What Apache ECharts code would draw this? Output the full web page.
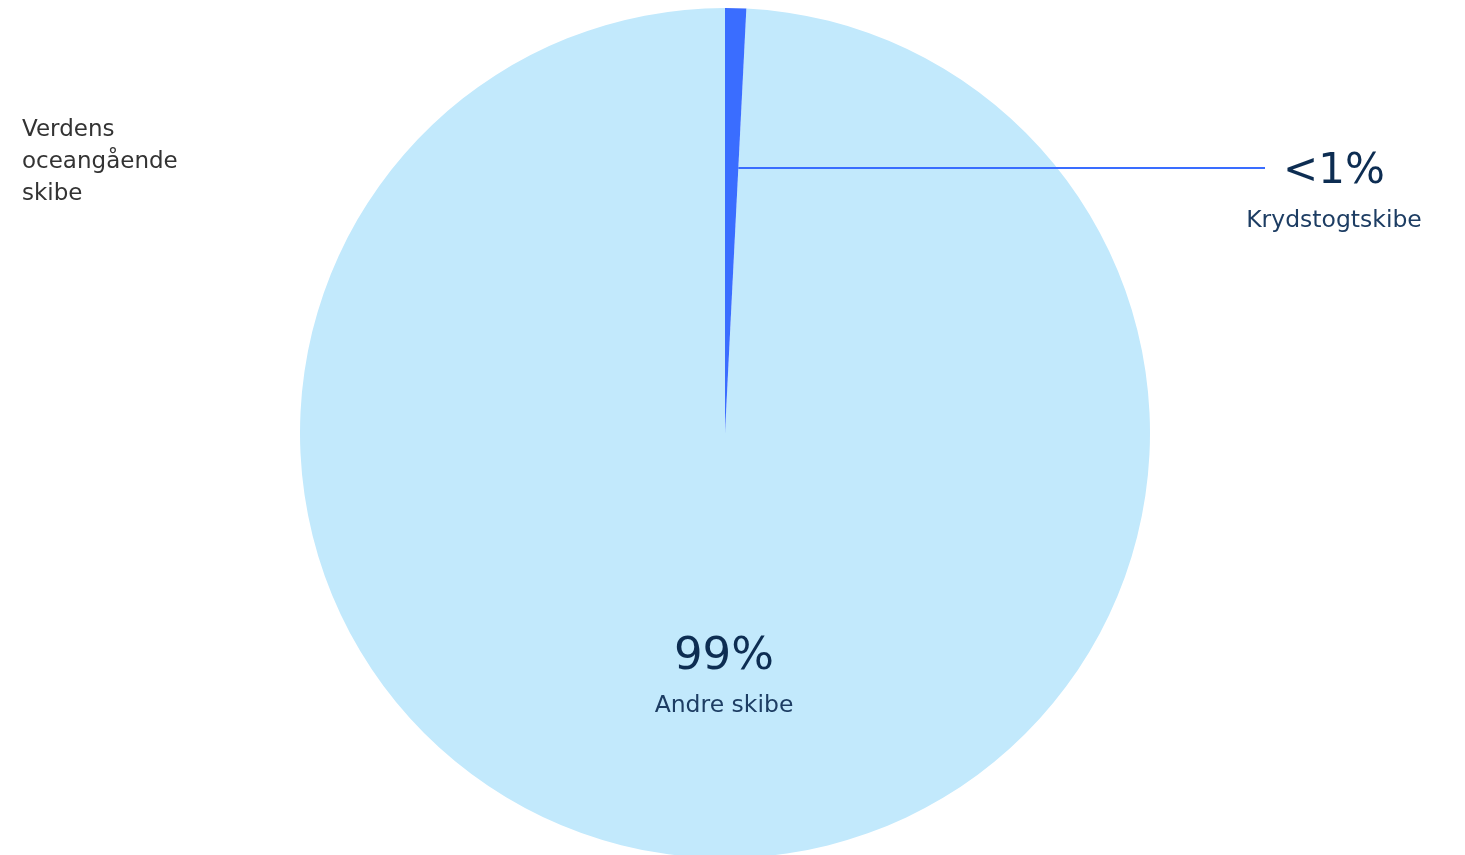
<!DOCTYPE html>
<html>
<head>
<meta charset="utf-8">
<script src="https://cdn.jsdelivr.net/npm/echarts@6/dist/echarts.min.js"></script>
<style>html,body{margin:0;padding:0;background:#fff;}#c{width:1465px;height:855px;}</style>
</head>
<body>
<div id="c"></div>
<script>
// Data (order: large slice first so the small slice is drawn on top)
const categories = ['Andre skibe', 'Krydstogtskibe'];
const values = [99.2, 0.8];
const valueLabels = ['99%', '<1%'];
const titleText = 'Verdens\noceangående\nskibe';

const FONT = 'DejaVu Sans';
const chart = echarts.init(document.getElementById('c'));
const colors = ['#c2e9fc', '#3a6dff'];
const total = values.reduce((a, b) => a + b, 0);
const smallDeg = 360 * values[1] / total;
// small slice begins at 12 o'clock and runs clockwise
const startAngle = 90 - smallDeg;

const CX = 725, CY = 433, R = 425;
const LINE_Y = 168, LINE_END = 1265;
const lineStartX = CX + (CY - LINE_Y) * Math.tan(smallDeg * Math.PI / 180);

const data = categories.map((name, i) => ({
  name: name,
  value: values[i],
  itemStyle: { color: colors[i] },
  label: i === 1 ? { position: 'outside' } : { position: 'inside' },
  labelLine: { show: false }
}));

chart.setOption({
  animation: false,
  title: {
    text: titleText,
    left: 17, top: 109,
    textStyle: { fontFamily: FONT, fontSize: 23, fontWeight: 'normal', color: '#333', lineHeight: 32 }
  },
  graphic: [{
    type: 'line',
    z: 100,
    silent: true,
    shape: { x1: lineStartX, y1: LINE_Y, x2: LINE_END, y2: LINE_Y },
    style: { stroke: '#3a6dff', lineWidth: 2 }
  }],
  series: [{
    type: 'pie',
    center: [CX, CY],
    radius: [0, R],
    startAngle: startAngle,
    clockwise: true,
    silent: true,
    data: data,
    label: {
      show: true,
      formatter: p => '{v' + p.dataIndex + '|' + valueLabels[p.dataIndex] + '}\n{n|' + p.name + '}',
      rich: {
        v0: { fontFamily: FONT, fontSize: 45, color: '#0d2d52', lineHeight: 52, align: 'center' },
        v1: { fontFamily: FONT, fontSize: 42, color: '#0d2d52', lineHeight: 52, align: 'center' },
        n: { fontFamily: FONT, fontSize: 23.5, color: '#1d3d63', lineHeight: 46, align: 'center' }
      }
    },
    labelLayout: function (p) {
      if (p.dataIndex === 1) {
        return { x: 1334, y: 195, align: 'center', verticalAlign: 'middle' };
      }
      return { x: 724, y: 680, align: 'center', verticalAlign: 'middle' };
    }
  }]
});
</script>
</body>
</html>
